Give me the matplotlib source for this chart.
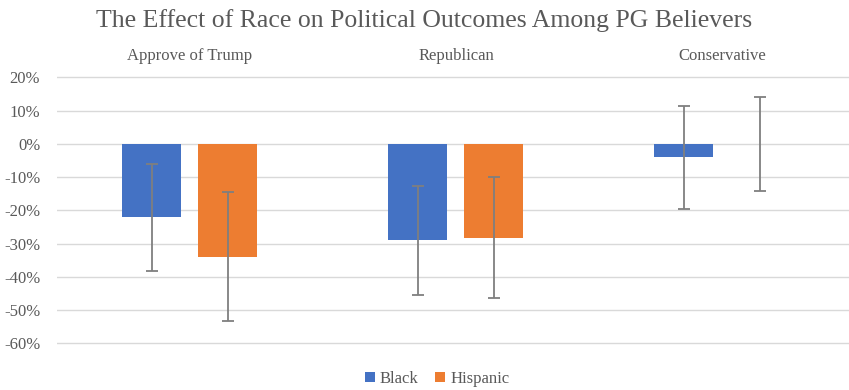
import numpy as np
import matplotlib
matplotlib.use('Agg')
import matplotlib.pyplot as plt
from matplotlib.ticker import FuncFormatter

categories = ['Approve of Trump', 'Republican', 'Conservative']
black = [-22.0, -29.0, -4.0]
black_err = [16.1, 16.3, 15.5]
hispanic = [-33.9, -28.2, 0.0]
hispanic_err = [19.4, 18.2, 14.1]

plt.rcParams['font.family'] = ['Liberation Serif', 'DejaVu Serif']

fig = plt.figure(figsize=(8.49, 3.9), dpi=100)
ax = fig.add_axes([0.067, 0.116, 0.94, 0.689])

x = np.arange(len(categories))
w = 0.222
off = 0.143
blue = '#4472C4'
orange = '#ED7D31'
ecol = '#7F7F7F'

ax.bar(x - off, black, w, color=blue, label='Black', zorder=2)
ax.bar(x + off, hispanic, w, color=orange, label='Hispanic', zorder=2)
ax.errorbar(x - off, black, yerr=black_err, fmt='none', ecolor=ecol,
            elinewidth=1.3, capsize=4, capthick=1.3, zorder=3)
ax.errorbar(x + off, hispanic, yerr=hispanic_err, fmt='none', ecolor=ecol,
            elinewidth=1.3, capsize=4, capthick=1.3, zorder=3)

ax.set_xlim(-0.5, 2.5)
ax.set_ylim(-60.4, 20.4)
ax.set_yticks(np.arange(-60, 21, 10))
ax.yaxis.set_major_formatter(FuncFormatter(lambda v, p: '%d%%' % v))
ax.grid(axis='y', color='#D9D9D9', linewidth=1, zorder=0)
for s in ax.spines.values():
    s.set_visible(False)
ax.tick_params(axis='y', length=0, labelsize=12, labelcolor='#595959', pad=12)
ax.xaxis.tick_top()
ax.set_xticks(x)
ax.set_xticklabels(categories)
ax.tick_params(axis='x', length=0, labelsize=12, labelcolor='#595959', pad=9)

fig.text(0.5, 0.948, 'The Effect of Race on Political Outcomes Among PG Believers',
         ha='center', va='center', fontsize=18.5, color='#595959')

fig.legend(loc='center', bbox_to_anchor=(0.515, 0.028), ncol=2, frameon=False,
           fontsize=12, handlelength=0.6, handleheight=0.6, handletextpad=0.3,
           columnspacing=1.0, labelcolor='#595959')

fig.savefig('out.png', dpi=100)
